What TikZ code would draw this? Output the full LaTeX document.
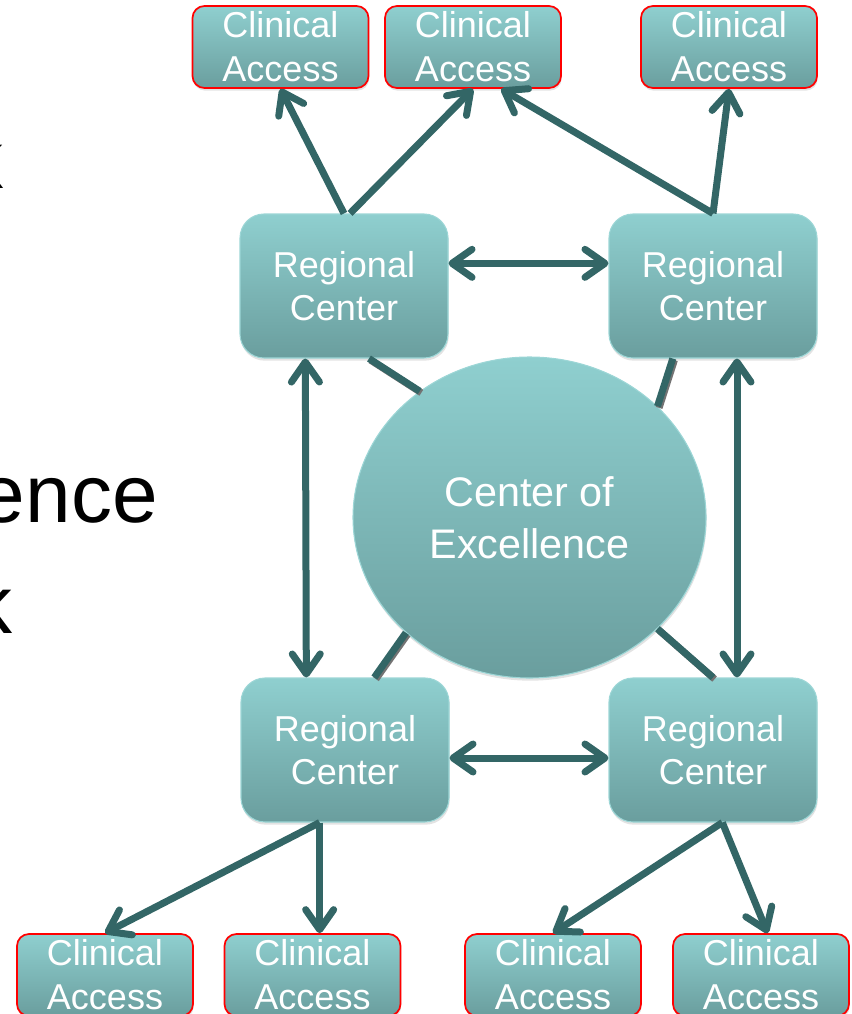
\documentclass[tikz,border=0pt]{standalone}
\usepackage{fontspec}
\setmainfont{Liberation Sans}
\usetikzlibrary{positioning,shapes.geometric,shadows,arrows.meta}

\definecolor{tealtop}{HTML}{8FCFCF}
\definecolor{tealbot}{HTML}{6A9E9E}
\definecolor{tealrim}{HTML}{9CD6D6}
\definecolor{linkteal}{HTML}{336666}

\begin{document}
\begin{tikzpicture}[x=0.75pt, y=-0.75pt,
    >={Straight Barb[length=15pt,width=21pt,round]},
    box/.style={top color=tealtop, bottom color=tealbot, text=white,
      align=center, inner sep=0pt,
      drop shadow={shadow xshift=0.5pt, shadow yshift=-2pt, opacity=0.22}},
    region/.style={box, draw=tealrim, line width=0.8pt, rounded corners=18pt,
      minimum width=156pt, minimum height=108pt,
      font=\fontsize{27}{32.5}\selectfont},
    access/.style={box, draw=red, line width=1.3pt, rounded corners=9pt,
      minimum width=132pt, minimum height=61.5pt,
      font=\fontsize{27}{33}\selectfont},
    hub/.style={box, ellipse, draw=tealrim, line width=0.8pt,
      minimum width=264.75pt, minimum height=240.75pt,
      font=\fontsize{31}{39}\selectfont},
    link/.style={draw=linkteal, line width=5.25pt},
    spoke/.style={link, preaction={draw=black!55, line width=5.25pt,
      transform canvas={shift={(1.2pt,-1.2pt)}}}},
    word/.style={anchor=base east, inner sep=0pt,
      font=\fontsize{61.5}{74}\selectfont},
  ]
  \useasboundingbox (0,0) rectangle (852,1014);
  \clip (0,0) rectangle (852,1014);

  \node[word] (w1) at (4,188) {k};
  \node[word] (w2) at (158,522) {ence};
  \node[word] (w3) at (13,633) {k};

  \node[access] (ca1) at (280.5,47) {Clinical\\Access};
  \node[access] (ca2) at (473,47) {Clinical\\Access};
  \node[access] (ca3) at (729,47) {Clinical\\Access};

  \node[region] (rc1) at (344,286) {Regional\\Center};
  \node[region] (rc2) at (713,286) {Regional\\Center};
  \node[region] (rc3) at (345,750) {Regional\\Center};
  \node[region] (rc4) at (713,750) {Regional\\Center};

  \node[hub] (coe) at (529.5,517.5) {Center of\\Excellence};

  \node[access] (ca4) at (105,975) {Clinical\\Access};
  \node[access] (ca5) at (312.5,975) {Clinical\\Access};
  \node[access] (ca6) at (553,975) {Clinical\\Access};
  \node[access] (ca7) at (761,975) {Clinical\\Access};

  \draw[spoke] (rc1.-71.6) -- (coe.131.9);
  \draw[spoke] (rc2.-119.3) -- (coe.41.8);
  \draw[spoke] (rc3.68.7) -- (coe.-137.6);
  \draw[spoke] (rc4.north) -- (coe.-41.7);

  \draw[link, ->] (rc1.north) -- (ca1.south);
  \draw[link, ->] ([xshift=4.5pt]rc1.north) -- (ca2.south);
  \draw[link, ->] (rc2.north) -- (ca2.-56);
  \draw[link, ->] (rc2.north) -- (ca3.south);

  \draw[link, <->] ([yshift=17pt]rc1.east) -- ([yshift=17pt]rc2.west);
  \draw[link, <->] ([yshift=-6pt]rc3.east) -- ([yshift=-6pt]rc4.west);
  \draw[link, <->] ([xshift=-29pt]rc1.south) -- ([xshift=-29pt]rc3.north);
  \draw[link, <->] ([xshift=18pt]rc2.south) -- ([xshift=18pt]rc4.north);

  \coordinate (rc3out) at ([xshift=-19pt]rc3.south);
  \coordinate (rc4out) at ([xshift=7pt]rc4.south);
  \draw[link, ->] (rc3out) -- (ca4.north);
  \draw[link, ->] (rc3out) -- (rc3out |- ca5.north);
  \draw[link, ->] (rc4out) -- (ca6.north);
  \draw[link, ->] (rc4out) -- ([xshift=5pt]ca7.north);
\end{tikzpicture}
\end{document}
